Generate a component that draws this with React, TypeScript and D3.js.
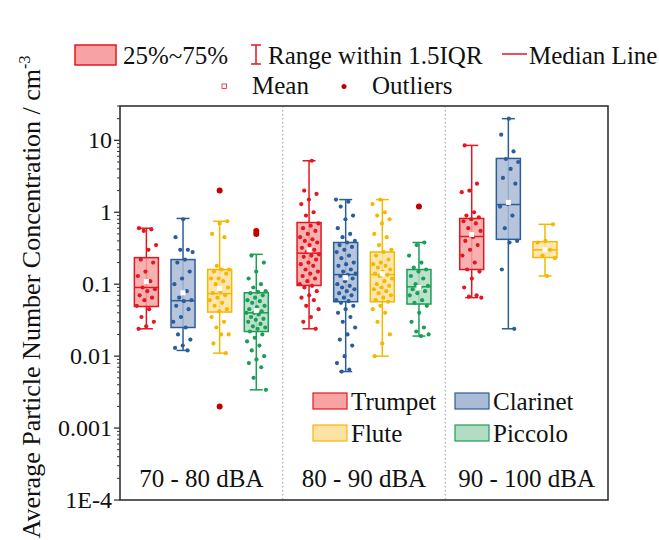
import React from "react";
import * as d3 from "d3";

// Noise levels (x groups) and instruments (boxes within a group)
const levels = ["70 - 80 dBA", "80 - 90 dBA", "90 - 100 dBA"];
const instruments = ["Trumpet", "Clarinet", "Flute", "Piccolo"];
const strokeColors = ["#e3171f", "#2c5d9b", "#f5b700", "#1b9e55"];
const fillColors = ["#f7a3a3", "#a9bbd5", "#fde3a3", "#b2dcc4"];
const outlierColor = "#c00000";

// One entry per box
const boxLevel = [0, 0, 0, 0, 1, 1, 1, 1, 2, 2, 2];
const boxInstrument = [0, 1, 2, 3, 0, 1, 2, 3, 0, 1, 2];
const whiskerLow = [0.024, 0.012, 0.011, 0.0034, 0.024, 0.0061, 0.01, 0.019, 0.065, 0.024, 0.13];
const q1 = [0.049, 0.025, 0.041, 0.022, 0.096, 0.057, 0.057, 0.053, 0.16, 0.42, 0.235];
const medians = [0.09, 0.059, 0.074, 0.04, 0.27, 0.136, 0.136, 0.092, 0.46, 1.28, 0.3];
const q3 = [0.234, 0.22, 0.16, 0.076, 0.72, 0.38, 0.28, 0.16, 0.82, 5.6, 0.39];
const whiskerHigh = [0.6, 0.82, 0.75, 0.26, 5.2, 1.5, 1.5, 0.38, 8.5, 20, 0.68];
const means = [0.109, 0.076, 0.087, 0.043, 0.3, 0.123, 0.14, 0.09, 0.49, 1.37, 0.3];

// Individual measurements drawn over each box
const samples: number[][] = [
  [0.6, 0.58, 0.55, 0.35, 0.3, 0.22, 0.2, 0.15, 0.13, 0.11, 0.09, 0.085, 0.08, 0.07, 0.065, 0.06, 0.05, 0.045, 0.035, 0.03, 0.026, 0.024],
  [0.8, 0.45, 0.3, 0.3, 0.28, 0.22, 0.2, 0.15, 0.12, 0.1, 0.08, 0.065, 0.06, 0.058, 0.05, 0.045, 0.035, 0.03, 0.025, 0.02, 0.017, 0.014, 0.013, 0.012],
  [0.75, 0.7, 0.5, 0.45, 0.18, 0.16, 0.16, 0.15, 0.14, 0.12, 0.12, 0.11, 0.1, 0.09, 0.08, 0.075, 0.07, 0.065, 0.06, 0.055, 0.05, 0.045, 0.042, 0.035, 0.03, 0.025, 0.02, 0.02, 0.015, 0.011],
  [0.25, 0.2, 0.15, 0.12, 0.1, 0.09, 0.08, 0.078, 0.075, 0.07, 0.065, 0.06, 0.058, 0.055, 0.05, 0.048, 0.045, 0.042, 0.04, 0.04, 0.038, 0.035, 0.033, 0.032, 0.03, 0.028, 0.026, 0.025, 0.024, 0.022, 0.02, 0.018, 0.016, 0.014, 0.012, 0.01, 0.009, 0.008, 0.007, 0.005, 0.0034],
  [5.2, 2.0, 1.8, 1.5, 1.3, 1.0, 0.9, 0.7, 0.65, 0.6, 0.55, 0.5, 0.45, 0.42, 0.4, 0.38, 0.35, 0.32, 0.3, 0.28, 0.26, 0.25, 0.24, 0.22, 0.2, 0.19, 0.18, 0.16, 0.15, 0.14, 0.13, 0.12, 0.11, 0.1, 0.095, 0.09, 0.08, 0.07, 0.065, 0.06, 0.05, 0.045, 0.035, 0.03, 0.024],
  [1.5, 1.4, 1.2, 0.9, 0.8, 0.6, 0.5, 0.45, 0.4, 0.38, 0.35, 0.33, 0.3, 0.28, 0.25, 0.23, 0.2, 0.19, 0.18, 0.16, 0.15, 0.14, 0.135, 0.13, 0.12, 0.11, 0.1, 0.095, 0.09, 0.085, 0.08, 0.075, 0.07, 0.065, 0.06, 0.058, 0.055, 0.05, 0.045, 0.04, 0.035, 0.03, 0.025, 0.02, 0.017, 0.014, 0.01, 0.008, 0.0065, 0.0061],
  [1.5, 1.3, 1.0, 0.9, 0.8, 0.7, 0.5, 0.45, 0.35, 0.3, 0.28, 0.25, 0.22, 0.2, 0.19, 0.18, 0.17, 0.16, 0.15, 0.14, 0.135, 0.13, 0.12, 0.11, 0.1, 0.095, 0.09, 0.085, 0.08, 0.075, 0.07, 0.065, 0.06, 0.057, 0.05, 0.045, 0.04, 0.03, 0.02, 0.015, 0.01],
  [0.38, 0.35, 0.25, 0.2, 0.17, 0.16, 0.15, 0.13, 0.12, 0.1, 0.095, 0.09, 0.085, 0.08, 0.075, 0.07, 0.06, 0.055, 0.05, 0.04, 0.03, 0.025, 0.022, 0.02, 0.019],
  [8.5, 2.5, 2.0, 1.9, 1.0, 0.9, 0.85, 0.8, 0.75, 0.7, 0.6, 0.55, 0.45, 0.4, 0.35, 0.3, 0.25, 0.2, 0.16, 0.15, 0.12, 0.09, 0.07, 0.067, 0.065],
  [20, 12, 7, 5.5, 5, 4, 3, 2.5, 1.3, 1.2, 0.9, 0.6, 0.4, 0.38, 0.16, 0.024],
  [0.68, 0.4, 0.38, 0.3, 0.25, 0.23, 0.13],
];
const outliers: number[][] = [[], [], [2.0, 0.002], [0.55, 0.5], [], [], [], [1.2], [], [], []];

const tickValues = [10, 1, 0.1, 0.01, 0.001, 1e-4];
const tickLabels = ["10", "1", "0.1", "0.01", "0.001", "1E-4"];

const W = 659;
const H = 540;
const plot = { left: 120, right: 608, top: 106, bottom: 500 };
const FONT = "'Liberation Serif', 'Times New Roman', serif";

export default function App() {
  const y = d3.scaleLog().domain([1e-4, 30]).range([plot.bottom, plot.top]);
  const xLevel = d3.scaleBand<string>().domain(levels).range([plot.left, plot.right]).padding(0);
  const xInst = d3
    .scalePoint<string>()
    .domain(instruments)
    .range([0, xLevel.bandwidth()])
    .padding(0.72);
  const boxW = 24;
  const capW = 13;

  const minorTicks: number[] = [];
  for (let e = -4; e <= 1; e++) {
    for (let m = 2; m <= 9; m++) {
      const v = m * Math.pow(10, e);
      if (v <= 30) minorTicks.push(v);
    }
  }

  const jitter = (i: number, k: number) => {
    const f = (i * 0.6180339 + k * 0.377 + 0.13) % 1;
    return (f - 0.5) * 20;
  };

  return (
    <svg width={W} height={H} style={{ position: "absolute", left: 0, top: 0, background: "#fff" }} fontFamily={FONT}>
      {/* top legend */}
      <g fontSize={25} fill="#111">
        <rect x={75} y={45} width={41} height={20} fill={fillColors[0]} stroke={strokeColors[0]} strokeWidth={1.5} />
        <text x={123} y={64}>25%~75%</text>
        <g stroke={strokeColors[0]} strokeWidth={1.5}>
          <line x1={256} x2={256} y1={45} y2={64} />
          <line x1={251} x2={261} y1={45} y2={45} />
          <line x1={251} x2={261} y1={64} y2={64} />
        </g>
        <text x={268} y={64}>Range within 1.5IQR</text>
        <line x1={502} x2={527} y1={54} y2={54} stroke={strokeColors[0]} strokeWidth={1.5} />
        <text x={529} y={64}>Median Line</text>
        <rect x={222} y={84} width={4.5} height={4.5} fill="#fff" stroke={strokeColors[0]} strokeWidth={0.8} />
        <text x={252} y={94}>Mean</text>
        <circle cx={344} cy={86.5} r={2.5} fill={outlierColor} />
        <text x={372} y={94}>Outliers</text>
      </g>

      {/* y axis title */}
      <text
        transform={`translate(40, ${(plot.top + plot.bottom) / 2 - 6}) rotate(-90)`}
        textAnchor="middle"
        fontSize={26}
        fill="#111"
      >
        Average Particle Number Concentration / cm
        <tspan dy={-10} fontSize={16}>-3</tspan>
      </text>

      {/* dotted separators between noise levels */}
      {levels.slice(1).map((l) => (
        <line
          key={l}
          x1={xLevel(l)!}
          x2={xLevel(l)!}
          y1={plot.top}
          y2={plot.bottom}
          stroke="#aaa"
          strokeWidth={1.2}
          strokeDasharray="1.5,2.5"
        />
      ))}

      {/* boxes */}
      {boxLevel.map((lv, b) => {
        const cx = xLevel(levels[lv])! + xInst(instruments[boxInstrument[b]])!;
        const sc = strokeColors[boxInstrument[b]];
        const fc = fillColors[boxInstrument[b]];
        return (
          <g key={b}>
            <line x1={cx} x2={cx} y1={y(whiskerHigh[b])} y2={y(whiskerLow[b])} stroke={sc} strokeWidth={1.5} />
            <line x1={cx - capW / 2} x2={cx + capW / 2} y1={y(whiskerHigh[b])} y2={y(whiskerHigh[b])} stroke={sc} strokeWidth={1.5} />
            <line x1={cx - capW / 2} x2={cx + capW / 2} y1={y(whiskerLow[b])} y2={y(whiskerLow[b])} stroke={sc} strokeWidth={1.5} />
            <rect
              x={cx - boxW / 2}
              y={y(q3[b])}
              width={boxW}
              height={y(q1[b]) - y(q3[b])}
              fill={fc}
              fillOpacity={0.85}
              stroke={sc}
              strokeWidth={1.5}
            />
            <line x1={cx - boxW / 2} x2={cx + boxW / 2} y1={y(medians[b])} y2={y(medians[b])} stroke={sc} strokeWidth={1.5} />
            {samples[b].map((v, i) => (
              <circle key={i} cx={cx + jitter(i, b)} cy={y(v)} r={2.1} fill={sc} />
            ))}
            <rect x={cx - 2.5} y={y(means[b]) - 2.5} width={5} height={5} fill="#fff" />
            {outliers[b].map((v, i) => (
              <circle key={"o" + i} cx={cx} cy={y(v)} r={3} fill={outlierColor} />
            ))}
          </g>
        );
      })}

      {/* instrument legend */}
      <g fontSize={25} fill="#111">
        {instruments.map((name, i) => {
          const col = i % 2;
          const row = Math.floor(i / 2);
          const sx = col === 0 ? 313 : 455;
          const sy = 393 + row * 32;
          return (
            <g key={name}>
              <rect x={sx} y={sy} width={34} height={16} fill={fillColors[i]} stroke={strokeColors[i]} strokeWidth={1.2} />
              <text x={sx + 38} y={sy + 17}>{name}</text>
            </g>
          );
        })}
      </g>

      {/* noise level labels */}
      {levels.map((l) => (
        <text key={l} x={xLevel(l)! + xLevel.bandwidth() / 2} y={487} textAnchor="middle" fontSize={25} fill="#111">
          {l}
        </text>
      ))}

      {/* y axis ticks */}
      <g stroke="#333" strokeWidth={1}>
        {minorTicks.map((v, i) => (
          <line key={i} x1={plot.left - 3} x2={plot.left} y1={y(v)} y2={y(v)} />
        ))}
        {tickValues.map((v, i) => (
          <line key={"M" + i} x1={plot.left - 6} x2={plot.left} y1={y(v)} y2={y(v)} strokeWidth={1.3} />
        ))}
      </g>
      {tickValues.map((v, i) => (
        <text key={i} x={plot.left - 8} y={y(v) + 8} textAnchor="end" fontSize={24} fill="#111">
          {tickLabels[i]}
        </text>
      ))}

      {/* frame */}
      <rect
        x={plot.left}
        y={plot.top}
        width={plot.right - plot.left}
        height={plot.bottom - plot.top}
        fill="none"
        stroke="#333"
        strokeWidth={1.6}
      />
    </svg>
  );
}
